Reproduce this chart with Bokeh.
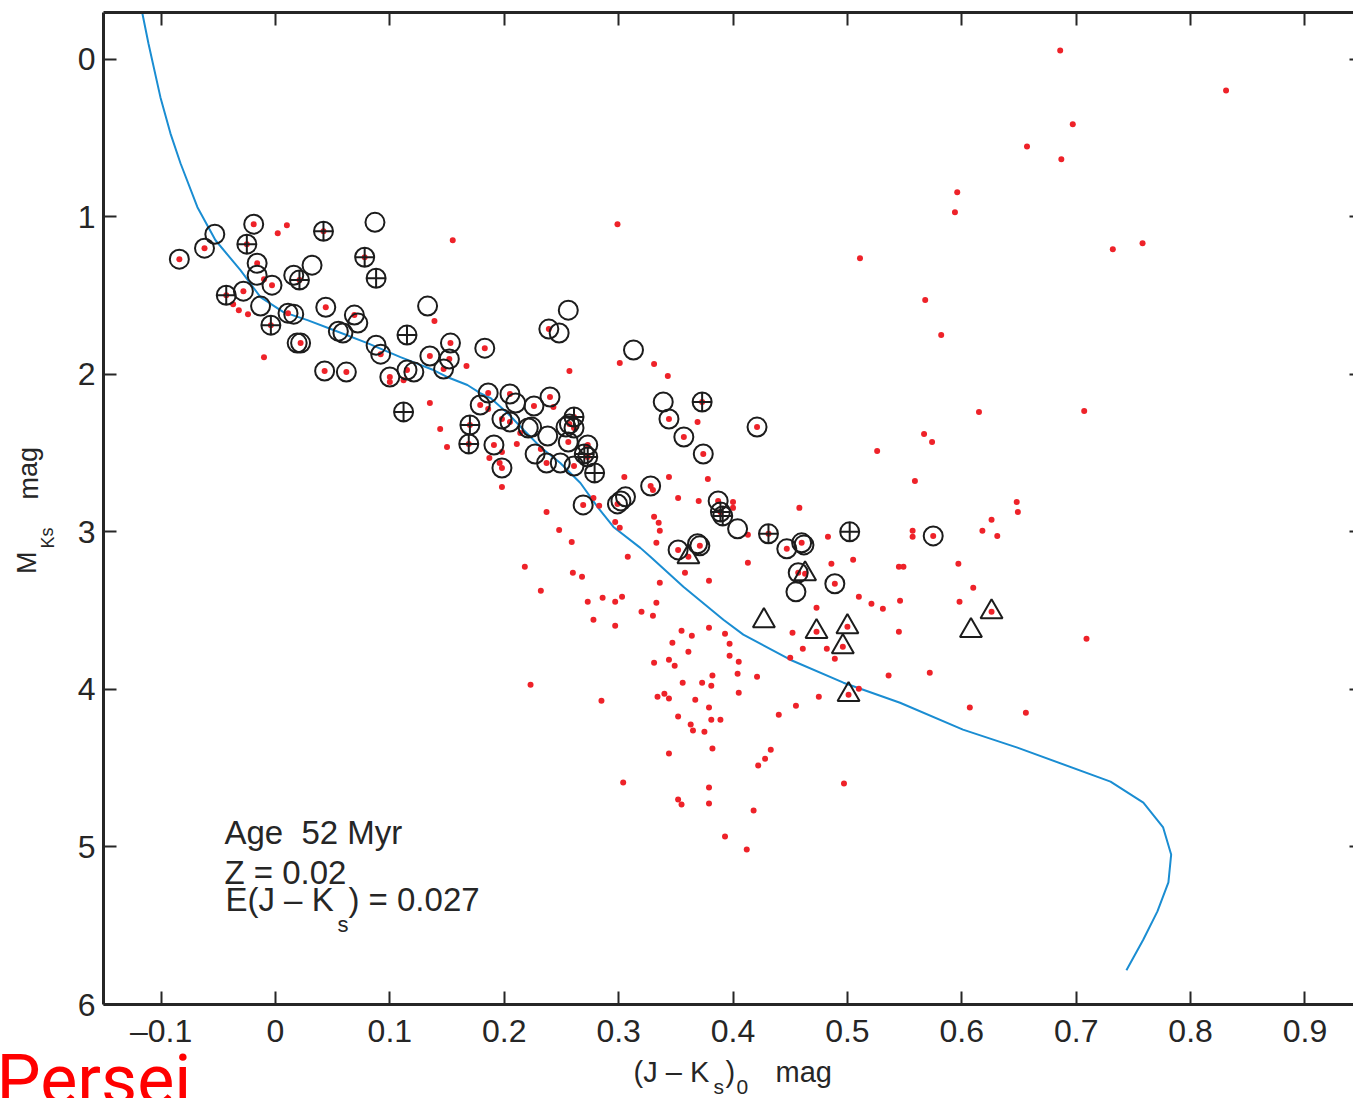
from bokeh.plotting import figure
from bokeh.models import Range1d, FixedTicker, CustomJSTickFormatter, LinearAxis, Label
from bokeh.layouts import column, row
from bokeh.embed import file_html
from bokeh.resources import INLINE

# ---------------- data ----------------
x_ticks = [-0.1, 0.0, 0.1, 0.2, 0.3, 0.4, 0.5, 0.6, 0.7, 0.8, 0.9]
y_ticks = [0, 1, 2, 3, 4, 5, 6]

# isochrone (Age 52 Myr, Z = 0.02)
iso_x = [-0.1163, -0.1110, -0.1005, -0.0918, -0.0830, -0.0682, -0.0524, -0.0306, -0.0131,
         0.0070, 0.0280, 0.0507, 0.0804, 0.1093, 0.1381, 0.1500, 0.1678, 0.1790, 0.1880,
         0.2028, 0.2170, 0.2316, 0.2490, 0.2666, 0.2815, 0.2955, 0.3190, 0.3278, 0.3566,
         0.3916, 0.4090, 0.4500, 0.4965, 0.5460, 0.6010, 0.6486, 0.7300, 0.7587, 0.7760,
         0.7830, 0.7806, 0.7710, 0.7587, 0.7439]
iso_y = [-0.292, -0.101, 0.241, 0.469, 0.659, 0.938, 1.148, 1.338, 1.509,
         1.604, 1.655, 1.718, 1.801, 1.890, 1.972, 2.016, 2.067, 2.118, 2.150,
         2.245, 2.353, 2.460, 2.562, 2.689, 2.841, 2.968, 3.101, 3.158, 3.348,
         3.557, 3.652, 3.811, 3.957, 4.084, 4.255, 4.369, 4.585, 4.718, 4.876,
         5.048, 5.225, 5.409, 5.587, 5.783]

# open circles (dot flag = 1 when a red point sits in the centre)
circ_x = [-0.084, -0.062, -0.053, -0.019, 0.087, -0.016, -0.016, -0.003, 0.016, 0.032,
          -0.028, -0.013, 0.011, 0.016, 0.044, 0.019, 0.022, 0.043, 0.062, 0.069,
          0.072, 0.055, 0.059, 0.133, 0.088, 0.092, 0.100, 0.115, 0.121, 0.135,
          0.153, 0.152, 0.147, 0.183, 0.186, 0.179, 0.198, 0.205, 0.210, 0.205,
          0.226, 0.240, 0.191, 0.198, 0.221, 0.224, 0.238, 0.227, 0.237, 0.249,
          0.261, 0.257, 0.261, 0.254, 0.256, 0.273, 0.256, 0.239, 0.248, 0.313,
          0.339, 0.344, 0.357, 0.374, 0.421, 0.269, 0.299, 0.302, 0.306, 0.328,
          0.387, 0.404, 0.447, 0.460, 0.462, 0.575, 0.457, 0.455, 0.489, 0.352,
          0.371, 0.369]
circ_y = [1.268, 1.198, 1.110, 1.046, 1.034, 1.294, 1.370, 1.433, 1.370, 1.306,
          1.471, 1.566, 1.611, 1.617, 1.573, 1.801, 1.801, 1.978, 1.985, 1.623,
          1.674, 1.725, 1.737, 1.566, 1.814, 1.871, 2.016, 1.972, 1.985, 1.883,
          1.801, 1.902, 1.966, 1.833, 2.118, 2.194, 2.283, 2.124, 2.181, 2.302,
          2.200, 2.143, 2.448, 2.594, 2.340, 2.334, 2.391, 2.505, 2.562, 2.562,
          2.581, 2.315, 2.340, 2.334, 2.429, 2.448, 1.592, 1.712, 1.737, 1.845,
          2.175, 2.283, 2.397, 2.505, 2.334, 2.828, 2.822, 2.803, 2.777, 2.708,
          2.803, 2.980, 3.107, 3.069, 3.082, 3.025, 3.259, 3.380, 3.329, 3.114,
          3.088, 3.075]
circ_dot = [1, 1, 0, 1, 0, 1, 0, 1, 0, 0,
            1, 0, 1, 0, 1, 0, 1, 1, 1, 1,
            0, 0, 0, 0, 0, 1, 1, 1, 0, 1,
            1, 1, 1, 1, 1, 1, 1, 1, 0, 1,
            1, 1, 1, 1, 0, 0, 0, 0, 1, 0,
            1, 1, 1, 0, 1, 1, 0, 1, 0, 0,
            0, 1, 1, 1, 1, 1, 1, 0, 0, 1,
            1, 0, 1, 1, 0, 1, 1, 0, 1, 1,
            1, 0]

# circles with a cross
plus_x = [0.042, -0.025, 0.078, 0.088, 0.021, -0.043, -0.004, 0.115, 0.112, 0.170,
          0.169, 0.261, 0.273, 0.270, 0.279, 0.373, 0.389, 0.391, 0.431, 0.502]
plus_y = [1.091, 1.173, 1.256, 1.389, 1.401, 1.497, 1.687, 1.750, 2.238, 2.321,
          2.441, 2.270, 2.524, 2.505, 2.625, 2.175, 2.873, 2.898, 3.012, 2.999]
plus_dot = [1, 1, 1, 0, 1, 1, 1, 0, 0, 1,
            1, 1, 1, 0, 0, 1, 1, 0, 1, 0]

# triangles
tri_x = [0.361, 0.463, 0.427, 0.473, 0.500, 0.496, 0.501, 0.608, 0.626]
tri_y = [3.158, 3.266, 3.564, 3.633, 3.602, 3.729, 4.033, 3.627, 3.507]
tri_dot = [1, 1, 0, 1, 1, 1, 1, 0, 1]

# red points without any other symbol
dot_x = [0.002, 0.010, -0.010, -0.037, -0.032, -0.024, -0.010, 0.155, 0.139, 0.100,
         0.112, 0.135, 0.144, 0.150, 0.167, 0.186, 0.187, 0.196, 0.198, 0.198,
         0.211, 0.214, 0.232, 0.243, 0.257, 0.299, 0.301, 0.331, 0.343, 0.369,
         0.237, 0.248, 0.259, 0.278, 0.283, 0.305, 0.330, 0.344, 0.352, 0.370,
         0.378, 0.400, 0.400, 0.413, 0.458, 0.483, 0.486, 0.505, 0.526, 0.567,
         0.574, 0.615, 0.559, 0.511, 0.686, 0.831, 0.697, 0.657, 0.687, 0.596,
         0.594, 0.732, 0.758, 0.568, 0.582, 0.707, 0.648, 0.649, 0.626, 0.618,
         0.631, 0.557, 0.557, 0.597, 0.610, 0.598, 0.709, 0.572, 0.607, 0.656,
         0.549, 0.545, 0.510, 0.521, 0.531, 0.546, 0.545, 0.473, 0.452, 0.461,
         0.482, 0.489, 0.450, 0.536, 0.440, 0.455, 0.475, 0.510, 0.497, 0.260,
         0.268, 0.273, 0.286, 0.297, 0.303, 0.278, 0.297, 0.320, 0.330, 0.333,
         0.308, 0.301, 0.297, 0.331, 0.335, 0.336, 0.333, 0.336, 0.358, 0.379,
         0.413, 0.355, 0.364, 0.379, 0.393, 0.397, 0.397, 0.405, 0.347, 0.361,
         0.344, 0.349, 0.331, 0.404, 0.421, 0.405, 0.382, 0.381, 0.373, 0.356,
         0.367, 0.379, 0.381, 0.389, 0.352, 0.363, 0.365, 0.375, 0.340, 0.334,
         0.344, 0.285, 0.344, 0.382, 0.433, 0.428, 0.422, 0.304, 0.379, 0.352,
         0.355, 0.379, 0.418, 0.393, 0.412, 0.218, 0.232, 0.223]
dot_y = [1.103, 1.053, 1.395, 1.554, 1.592, 1.617, 1.890, 1.148, 1.661, 2.048,
         2.036, 2.181, 2.346, 2.460, 1.947, 2.219, 2.530, 2.562, 2.492, 2.714,
         2.441, 2.372, 2.473, 2.207, 1.978, 1.046, 1.928, 1.934, 2.010, 2.302,
         2.873, 2.987, 3.063, 2.784, 2.834, 2.651, 2.733, 2.651, 2.784, 2.803,
         2.663, 2.809, 2.847, 3.018, 2.847, 3.031, 3.202, 3.177, 2.486, 2.378,
         2.429, 2.238, 2.676, 1.262, -0.057, 0.197, 0.412, 0.552, 0.634, 0.843,
         0.970, 1.205, 1.167, 1.528, 1.750, 2.232, 2.809, 2.873, 2.923, 2.993,
         3.025, 2.993, 3.031, 3.202, 3.354, 3.443, 3.678, 3.893, 4.115, 4.147,
         3.221, 3.221, 3.412, 3.456, 3.488, 3.437, 3.633, 3.481, 3.640, 3.741,
         3.741, 3.805, 3.798, 3.912, 4.160, 4.103, 4.046, 3.995, 4.597, 3.259,
         3.285, 3.443, 3.418, 3.443, 3.412, 3.557, 3.595, 3.507, 3.532, 3.449,
         3.158, 2.974, 2.936, 2.904, 2.942, 2.993, 3.069, 3.323, 3.259, 3.310,
         3.196, 3.627, 3.659, 3.608, 3.646, 3.710, 3.786, 3.824, 3.703, 3.760,
         3.811, 3.849, 3.830, 3.900, 3.919, 4.020, 3.912, 3.976, 3.957, 3.957,
         4.065, 4.115, 4.192, 4.192, 4.172, 4.223, 4.261, 4.268, 4.027, 4.046,
         4.058, 4.071, 4.407, 4.375, 4.382, 4.439, 4.483, 4.591, 4.623, 4.699,
         4.730, 4.724, 4.769, 4.933, 5.016, 3.221, 3.373, 3.970]

# all red points: free ones plus those marked inside symbols
red_x = list(dot_x)
red_y = list(dot_y)
for xs, ys, fl in ((circ_x, circ_y, circ_dot), (plus_x, plus_y, plus_dot), (tri_x, tri_y, tri_dot)):
    for xv, yv, f in zip(xs, ys, fl):
        if f:
            red_x.append(xv)
            red_y.append(yv)

# ---------------- styling ----------------
FONT = "Liberation Sans"
INK = "#262626"
RED = "#ee2229"
BLUE = "#1a8dd2"

W, H = 1353, 1098
LEFT_W = 60           # strip holding the y title
BOTTOM_H = 47         # strip holding the x title and caption
MAIN_W = W - LEFT_W
MAIN_H = H - BOTTOM_H

p = figure(width=MAIN_W, height=MAIN_H,
           x_range=Range1d(-0.1503, 0.9424), y_range=Range1d(6, -0.298),
           output_backend="svg", toolbar_location=None,
           min_border_left=103 - LEFT_W, min_border_right=0,
           min_border_top=12, min_border_bottom=MAIN_H - 1005)
p.outline_line_color = None
p.grid.visible = False
p.background_fill_color = "white"
p.border_fill_color = "white"

xfmt = CustomJSTickFormatter(code="""
const v = Math.round(tick*10)/10;
if (Math.abs(v) < 1e-9) { return '0'; }
const s = Math.abs(v).toFixed(1);
return (v < 0 ? '\u2013' : '') + s;
""")
blank = CustomJSTickFormatter(code="return '';")

def style_axis(ax):
    ax.axis_line_width = 3
    ax.axis_line_color = INK
    ax.major_tick_in = 13
    ax.major_tick_out = 0
    ax.major_tick_line_width = 2
    ax.major_tick_line_color = INK
    ax.minor_tick_line_color = None
    ax.major_label_text_font = FONT
    ax.major_label_text_color = INK
    ax.major_label_text_font_size = "32px"
    ax.major_label_standoff = 8

xa = p.xaxis[0]
xa.ticker = FixedTicker(ticks=x_ticks)
xa.formatter = xfmt
style_axis(xa)
ya = p.yaxis[0]
ya.ticker = FixedTicker(ticks=y_ticks)
style_axis(ya)

top = LinearAxis(ticker=FixedTicker(ticks=x_ticks), formatter=blank)
style_axis(top)
top.major_label_standoff = 0
p.add_layout(top, "above")

# right-hand axis sits just at the window edge: only the inner tick stubs show
right = LinearAxis(ticker=FixedTicker(ticks=y_ticks), formatter=blank)
style_axis(right)
right.major_label_standoff = 0
right.axis_line_color = None
right.major_tick_in = 4
p.add_layout(right, "right")

# ---------------- glyphs ----------------
p.line(iso_x, iso_y, line_color=BLUE, line_width=2)
p.scatter(red_x, red_y, marker="circle", size=6, fill_color=RED, line_color=None)
p.scatter(circ_x, circ_y, marker="circle", size=19, fill_color=None,
          line_color="#1c1c1c", line_width=2)
p.scatter(plus_x, plus_y, marker="circle_cross", size=19, fill_color=None,
          line_color="#1c1c1c", line_width=2)
p.scatter(tri_x, tri_y, marker="triangle", size=22, fill_color=None,
          line_color="#1c1c1c", line_width=2)

# ---------------- texts ----------------
def lab(fig, x, y, text, size, color=INK, angle=0.0, font=FONT):
    fig.add_layout(Label(x=x, y=y, text=text, text_font=font, text_font_size=size,
                         text_color=color, text_align="left", text_baseline="alphabetic",
                         angle=angle))

# annotation block inside the plot
lab(p, -0.0446, 4.909, "Age \u00a052 Myr", "33px")
lab(p, -0.0446, 5.162, "Z = 0.02", "33px")
lab(p, -0.0437, 5.333, "E(J \u2013 K", "33px")
lab(p, 0.0542, 5.494, "s", "22px")
lab(p, 0.0638, 5.333, ") = 0.027", "33px")

# left strip: y title (strip pixel coordinates)
left = figure(width=LEFT_W, height=MAIN_H, x_range=Range1d(0, LEFT_W),
              y_range=Range1d(MAIN_H, 0), output_backend="svg", toolbar_location=None,
              x_axis_type=None, y_axis_type=None,
              min_border_left=0, min_border_right=0, min_border_top=0, min_border_bottom=0)
left.outline_line_color = None
left.grid.visible = False
lab(left, 26, 595, "M", "27px", angle=1.5708)
lab(left, 47, 568, "Ks", "18px", angle=1.5708)
lab(left, 28, 516, "mag", "27px", angle=1.5708)

# bottom strip: x title and caption (strip pixel coordinates)
bot = figure(width=W, height=BOTTOM_H, x_range=Range1d(0, W),
             y_range=Range1d(H, MAIN_H), output_backend="svg", toolbar_location=None,
             x_axis_type=None, y_axis_type=None,
             min_border_left=0, min_border_right=0, min_border_top=0, min_border_bottom=0)
bot.outline_line_color = None
bot.grid.visible = False
lab(bot, 633, 1071, "(J \u2013 K", "29px")
lab(bot, 713, 1086, "s", "21px")
lab(bot, 725, 1071, ")", "29px")
lab(bot, 736, 1086, "0", "21px")
lab(bot, 775, 1071, "mag", "29px")
lab(bot, -4, 1079, "Persei", "70px", color="#ff0000", font="Roboto")

layout = column(row(left, p, spacing=0), bot, spacing=0)

open("out.html", "w").write(file_html(layout, INLINE))
